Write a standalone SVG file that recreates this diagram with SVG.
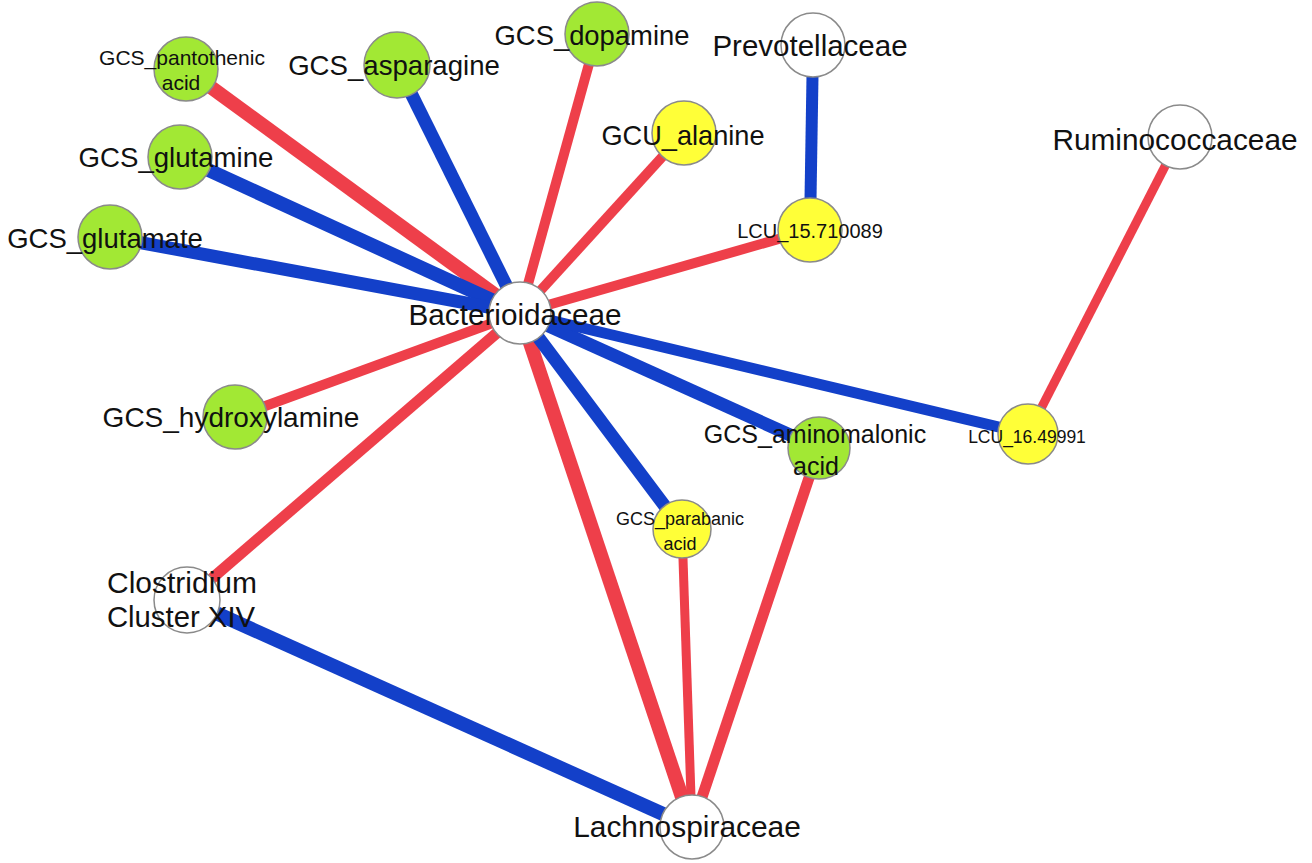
<svg xmlns="http://www.w3.org/2000/svg" width="1312" height="863" viewBox="0 0 1312 863">
<style>
.e{fill:none;stroke-linecap:butt}
.r{stroke:#EE3F4A}
.b{stroke:#1340C9}
.n{stroke:#8a8a8a;stroke-width:1.5}
.w{fill:#ffffff}
.g{fill:#A2E834}
.y{fill:#FFFF38}
text{font-family:"Liberation Sans",Arial,Helvetica,sans-serif;fill:#111;text-anchor:middle}
</style>
<rect width="1312" height="863" fill="#ffffff"/>
<g id="connectors">
<line class="e r" x1="520" y1="313" x2="186" y2="69" stroke-width="14"/>
<line class="e b" x1="520" y1="313" x2="397" y2="65" stroke-width="13"/>
<line class="e r" x1="520" y1="313" x2="597" y2="35" stroke-width="10"/>
<line class="e r" x1="520" y1="313" x2="684" y2="133" stroke-width="10"/>
<line class="e r" x1="520" y1="313" x2="810" y2="230" stroke-width="10"/>
<line class="e b" x1="813" y1="45" x2="810" y2="230" stroke-width="12"/>
<line class="e b" x1="520" y1="313" x2="180" y2="157" stroke-width="14"/>
<line class="e b" x1="520" y1="313" x2="110" y2="237" stroke-width="13"/>
<line class="e r" x1="520" y1="313" x2="235" y2="417" stroke-width="10"/>
<line class="e r" x1="520" y1="313" x2="187" y2="600" stroke-width="11"/>
<line class="e r" x1="520" y1="313" x2="692" y2="827" stroke-width="14"/>
<line class="e b" x1="520" y1="313" x2="682" y2="529" stroke-width="13"/>
<line class="e b" x1="520" y1="313" x2="819" y2="448" stroke-width="13"/>
<line class="e b" x1="520" y1="313" x2="1028" y2="434" stroke-width="11"/>
<line class="e r" x1="1180" y1="137" x2="1028" y2="434" stroke-width="9"/>
<line class="e r" x1="682" y1="529" x2="692" y2="827" stroke-width="9"/>
<line class="e r" x1="819" y1="448" x2="692" y2="827" stroke-width="11"/>
<line class="e b" x1="187" y1="600" x2="692" y2="827" stroke-width="14"/>
</g>
<g id="n-pantothenic"><circle class="n g" cx="186" cy="69" r="32"/><text x="182" y="65" font-size="21">GCS_pantothenic</text><text x="181" y="90" font-size="21">acid</text></g>
<g id="n-asparagine"><circle class="n g" cx="397" cy="65" r="33"/><text x="394" y="75" font-size="27.6">GCS_asparagine</text></g>
<g id="n-dopamine"><circle class="n g" cx="597" cy="34" r="32"/><text x="592" y="45" font-size="27.4">GCS_dopamine</text></g>
<g id="n-prevotellaceae"><circle class="n w" cx="813" cy="45" r="32"/><text x="810" y="56" font-size="29.5">Prevotellaceae</text></g>
<g id="n-alanine"><circle class="n y" cx="684" cy="133" r="32"/><text x="683" y="145" font-size="27.2">GCU_alanine</text></g>
<g id="n-lcu15"><circle class="n y" cx="810" cy="230" r="32"/><text x="810" y="238" font-size="20">LCU_15.710089</text></g>
<g id="n-ruminococcaceae"><circle class="n w" cx="1180" cy="137" r="32"/><text x="1175" y="150" font-size="29.8">Ruminococcaceae</text></g>
<g id="n-glutamine"><circle class="n g" cx="180" cy="157" r="32"/><text x="176" y="167" font-size="27.6">GCS_glutamine</text></g>
<g id="n-glutamate"><circle class="n g" cx="110" cy="237" r="32"/><text x="105" y="248" font-size="27.5">GCS_glutamate</text></g>
<g id="n-bacterioidaceae"><circle class="n w" cx="520" cy="313" r="31"/><text x="515" y="325" font-size="29.7">Bacterioidaceae</text></g>
<g id="n-hydroxylamine"><circle class="n g" cx="235" cy="417" r="32"/><text x="231" y="427" font-size="28">GCS_hydroxylamine</text></g>
<g id="n-aminomalonic"><circle class="n g" cx="819" cy="448" r="31"/><text x="815" y="443" font-size="25">GCS_aminomalonic</text><text x="816" y="475" font-size="25">acid</text></g>
<g id="n-lcu16"><circle class="n y" cx="1028" cy="434" r="30"/><text x="1027" y="443" font-size="17.5">LCU_16.49991</text></g>
<g id="n-parabanic"><circle class="n y" cx="682" cy="529" r="29"/><text x="680" y="525" font-size="18">GCS_parabanic</text><text x="680" y="550" font-size="18">acid</text></g>
<g id="n-clostridium"><circle class="n w" cx="187" cy="600" r="33"/><text x="182" y="593" font-size="30">Clostridium</text><text x="181" y="627" font-size="29.3">Cluster XIV</text></g>
<g id="n-lachnospiraceae"><circle class="n w" cx="692" cy="827" r="32"/><text x="687" y="837" font-size="29.9">Lachnospiraceae</text></g>
</svg>
